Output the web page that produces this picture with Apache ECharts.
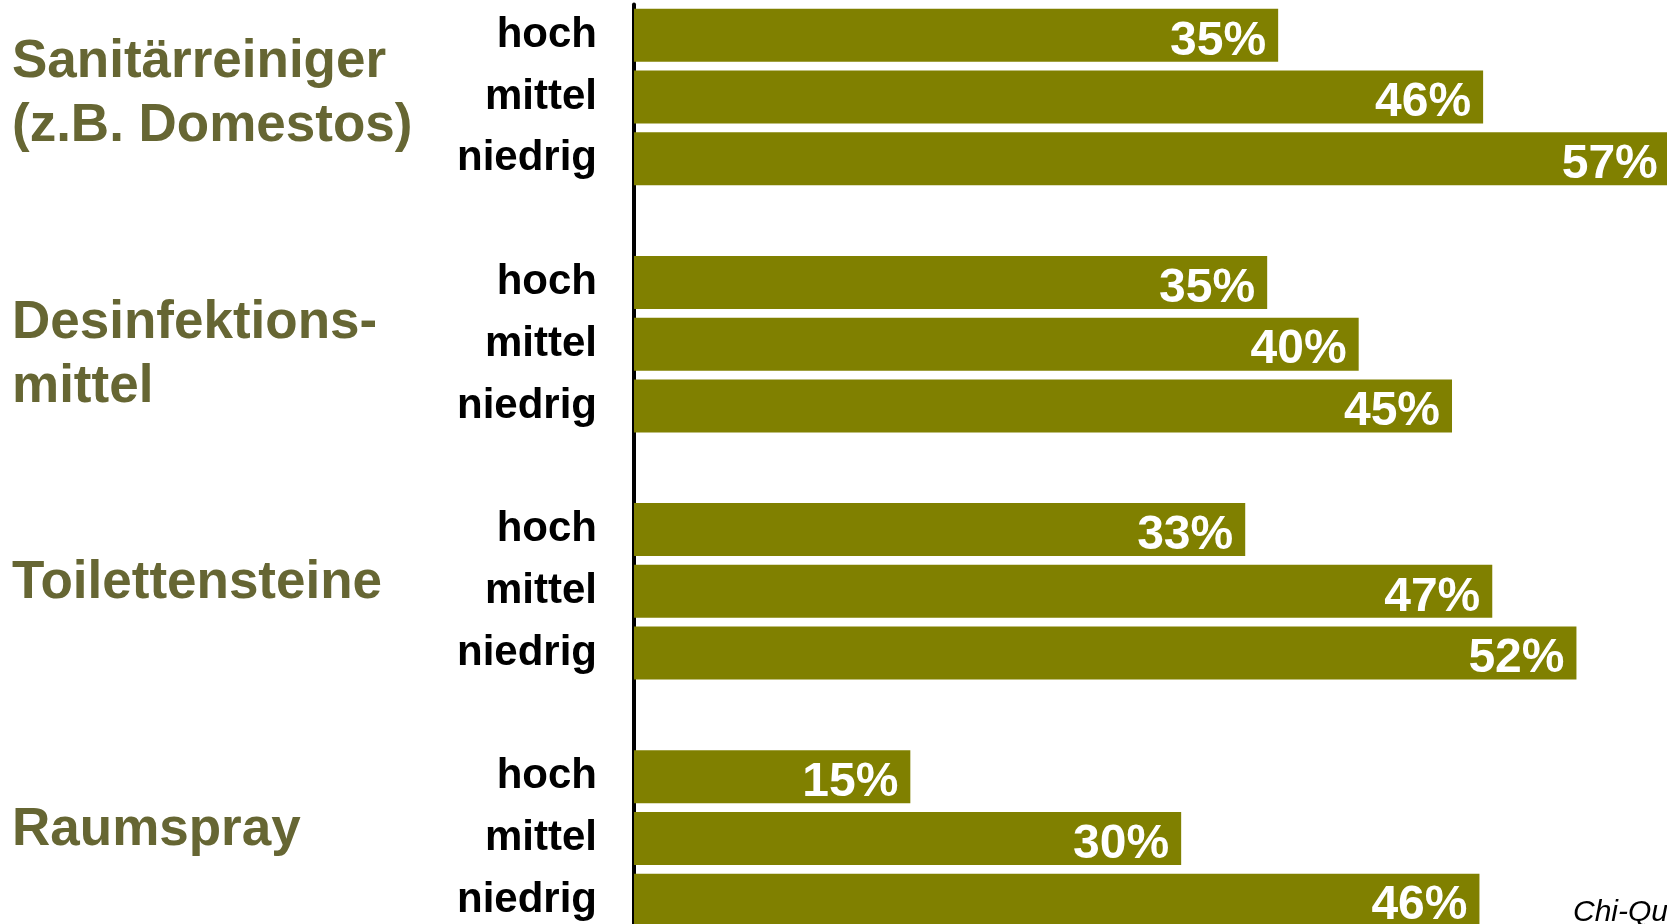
<!DOCTYPE html>
<html>
<head>
<meta charset="utf-8">
<script src="https://cdn.jsdelivr.net/npm/echarts@6/dist/echarts.min.js"></script>
<style>
html,body{margin:0;padding:0;background:#fff;}
#chart{width:1667px;height:924px;}
</style>
</head>
<body>
<div id="chart"></div>
<script>
// ---- data ----
const groups = ['Sanitärreiniger\n(z.B. Domestos)', 'Desinfektions-\nmittel', 'Toilettensteine', 'Raumspray'];
const levels = ['hoch', 'mittel', 'niedrig'];
const sanitaer = [35.2, 46.4, 56.6];
const desinfektion = [34.6, 39.6, 44.7];
const toilettensteine = [33.4, 46.9, 51.5];
const raumspray = [15.1, 29.9, 46.2];
const footnote = 'Chi-Qu';

// ---- build category slots (3 bars per group + a blank spacer) ----
const seriesByGroup = [sanitaer, desinfektion, toilettensteine, raumspray];
const titleShift = [-3, 11, -8, -8];
const levelCats = [], values = [], titleSlots = [];
seriesByGroup.forEach((vals, g) => {
  levels.forEach((lv, k) => {
    if (k === 1) titleSlots.push(levelCats.length);
    levelCats.push(lv);
    values.push(vals[k]);
  });
  if (g < seriesByGroup.length - 1) {
    levelCats.push('');
    values.push('-');
  }
});

const FONT = 'Arial, "Liberation Sans", Helvetica, sans-serif';
const chart = echarts.init(document.getElementById('chart'));
chart.setOption({
  animation: false,
  backgroundColor: '#ffffff',
  grid: { left: 634, right: -65, top: 4.4, bottom: -7.1, containLabel: false, outerBoundsMode: 'none' },
  xAxis: { type: 'value', min: 0, max: 60, show: false },
  yAxis: {
    type: 'category', inverse: true, data: levelCats,
    axisLine: { show: true, lineStyle: { color: '#000', width: 4 } },
    axisTick: { show: false },
    splitLine: { show: false },
    axisLabel: {
      interval: 0, margin: 37, color: '#000', fontSize: 42, fontWeight: 'bold',
      fontFamily: FONT, padding: [9, 0, 0, 0]
    }
  },
  series: [{
    type: 'bar', data: values, barWidth: 53,
    itemStyle: { color: '#808000' },
    label: {
      show: true, position: 'insideRight', distance: 12, offset: [0, 6],
      color: '#fff', fontSize: 48, fontWeight: 'bold', fontFamily: FONT,
      formatter: p => Math.round(p.value) + '%'
    }
  }]
});

// group titles, vertically placed from the category axis
const titleGraphics = groups.map((name, g) => {
  const y = chart.convertToPixel({ yAxisIndex: 0 }, titleSlots[g]);
  return {
    type: 'text', x: 12, y: y + titleShift[g],
    style: {
      text: name, fill: '#666633', font: 'bold 53px ' + FONT,
      lineHeight: 64, align: 'left', verticalAlign: 'middle'
    }
  };
});
titleGraphics.push({
  type: 'text', left: 1573, top: 898,
  style: { text: footnote, fill: '#000', font: 'italic 30px ' + FONT }
});
chart.setOption({ graphic: titleGraphics });
</script>
</body>
</html>
